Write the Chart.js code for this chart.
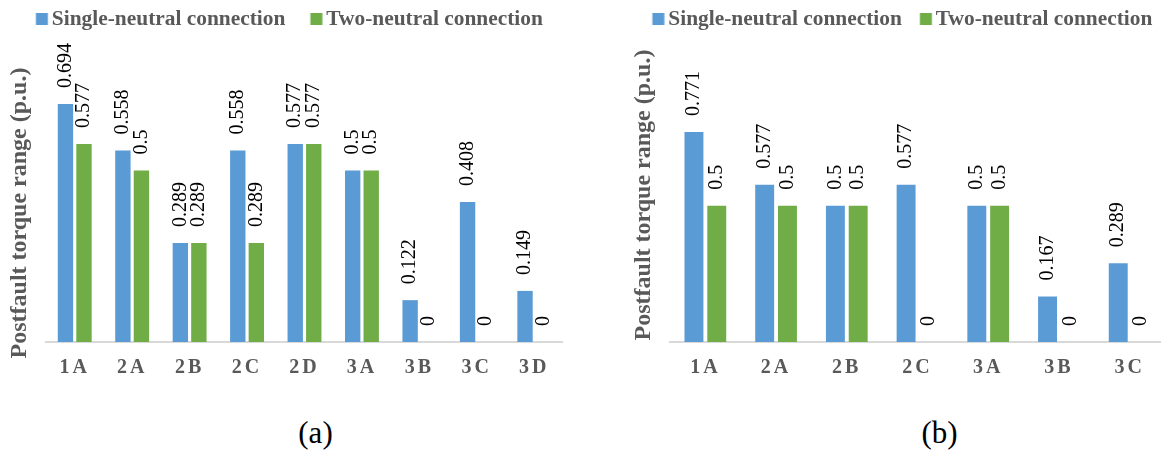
<!DOCTYPE html>
<html>
<head>
<meta charset="utf-8">
<script src="https://cdn.jsdelivr.net/npm/chart.js@4.4.1/dist/chart.umd.min.js"></script>
<style>
  html, body { margin: 0; padding: 0; background: #fff; width: 1161px; height: 451px; overflow: hidden; position: relative; }
  .panel { position: absolute; top: 0; height: 392px; }
  #wrapA { left: 0; width: 563px; }
  #wrapB { left: 624px; width: 541px; }
  .cap { position: absolute; top: 416.5px; font: 31px "Liberation Serif", "Times New Roman", serif; line-height: 31px;
         transform: translateX(-50%); color: #000; white-space: nowrap; }
</style>
</head>
<body>
<div class="panel" id="wrapA"><canvas id="chartA"></canvas></div>
<div class="panel" id="wrapB"><canvas id="chartB"></canvas></div>
<div class="cap" style="left:315.5px">(a)</div>
<div class="cap" style="left:939.5px">(b)</div>
<script>
// Postfault torque range per fault case, two neutral arrangements
const seriesNames = ['Single-neutral connection', 'Two-neutral connection'];
const yTitle = 'Postfault torque range (p.u.)';

// Panel (a)
const casesA = ['1A', '2A', '2B', '2C', '2D', '3A', '3B', '3C', '3D'];
const singleA = [0.694, 0.558, 0.289, 0.558, 0.577, 0.5, 0.122, 0.408, 0.149];
const twoA    = [0.577, 0.5,   0.289, 0.289, 0.577, 0.5, 0,     0,     0];

// Panel (b)
const casesB = ['1A', '2A', '2B', '2C', '3A', '3B', '3C'];
const singleB = [0.771, 0.577, 0.5, 0.577, 0.5, 0.167, 0.289];
const twoB    = [0.5,   0.5,   0.5, 0,     0.5, 0,     0];

const SERIF = '"Liberation Serif", "Times New Roman", serif';
const BLUE = '#5b9bd5';
const GREEN = '#70ad47';
const GREY_TEXT = '#595959';

const LEGEND_FONT = 21.4;
const LEGEND_SLOT = 20;   // legend box slot width handed to Chart.js
const SWATCH = 12;        // drawn square size
const SWATCH_GAP = 4;     // square to label text

// Square legend swatch; the image is centred on the slot, the square sits near the text
function swatch(color) {
  const shift = LEGEND_SLOT / 2 + LEGEND_FONT / 2 - SWATCH_GAP - SWATCH / 2;
  const w = Math.ceil(2 * (shift + SWATCH / 2)) + 2;
  const c = document.createElement('canvas');
  c.width = w; c.height = SWATCH;
  const g = c.getContext('2d');
  g.fillStyle = color;
  g.fillRect(w / 2 + shift - SWATCH / 2, 0, SWATCH, SWATCH);
  return c;
}
const swatches = [swatch(BLUE), swatch(GREEN)];

// Vertical value labels just above each bar
const valueLabels = {
  id: 'valueLabels',
  afterDatasetsDraw(chart) {
    const ctx = chart.ctx;
    ctx.save();
    ctx.font = '20px ' + SERIF;
    ctx.fillStyle = '#000';
    ctx.textAlign = 'left';
    ctx.textBaseline = 'middle';
    chart.data.datasets.forEach((ds, di) => {
      chart.getDatasetMeta(di).data.forEach((bar, i) => {
        ctx.save();
        ctx.translate(bar.x, bar.y - 16);
        ctx.rotate(-Math.PI / 2);
        ctx.fillText(String(ds.data[i]), 0, 0);
        ctx.restore();
      });
    });
    ctx.restore();
  }
};

// Rotated value-axis caption beside the plot
const sideTitle = {
  id: 'sideTitle',
  afterDraw(chart, args, opts) {
    const ctx = chart.ctx;
    ctx.save();
    ctx.translate(chart.chartArea.left - 26, opts.centerY);
    ctx.rotate(-Math.PI / 2);
    ctx.font = 'bold 24px ' + SERIF;
    ctx.fillStyle = GREY_TEXT;
    ctx.textAlign = 'center';
    ctx.textBaseline = 'middle';
    ctx.fillText(opts.text, 0, 0);
    ctx.restore();
  }
};

// Category labels are drawn with a little tracking
const spacedTicks = {
  id: 'spacedTicks',
  afterLayout(chart) {
    const s = chart.scales.x;
    if (s && !s._tracked) {
      const orig = s.drawLabels;
      s.drawLabels = function (area) {
        const c = this.ctx;
        const prev = c.letterSpacing;
        c.letterSpacing = '3px';
        orig.call(this, area);
        c.letterSpacing = prev || '0px';
      };
      s._tracked = true;
    }
  }
};

function buildChart(id, cases, single, two, yMax, titleCenterY, itemGap) {
  const barShape = { categoryPercentage: 0.645, barPercentage: 0.83 };
  // Chart.js spacing between legend items that leaves itemGap px from text to next square
  const pad = itemGap - LEGEND_SLOT + (SWATCH + SWATCH_GAP - LEGEND_FONT / 2);
  return new Chart(document.getElementById(id), {
    type: 'bar',
    data: {
      labels: cases,
      datasets: [
        Object.assign({ label: seriesNames[0], data: single, backgroundColor: BLUE }, barShape),
        Object.assign({ label: seriesNames[1], data: two, backgroundColor: GREEN }, barShape)
      ]
    },
    options: {
      responsive: true,
      maintainAspectRatio: false,
      animation: false,
      devicePixelRatio: 1,
      layout: { padding: { left: 1, right: 0, top: 8.6 - pad, bottom: 0 } },
      plugins: {
        legend: {
          position: 'top',
          labels: {
            usePointStyle: true,
            pointStyleWidth: LEGEND_SLOT,
            boxHeight: SWATCH,
            padding: pad,
            color: GREY_TEXT,
            font: { family: SERIF, size: LEGEND_FONT, weight: 'bold' },
            generateLabels(chart) {
              return Chart.defaults.plugins.legend.labels.generateLabels(chart)
                .map((item, i) => Object.assign(item, { pointStyle: swatches[i] }));
            }
          }
        },
        tooltip: { enabled: false },
        sideTitle: { text: yTitle, centerY: titleCenterY }
      },
      scales: {
        x: {
          grid: { display: false, drawTicks: false },
          border: { display: true, color: '#d9d9d9', width: 2 },
          ticks: {
            color: GREY_TEXT, padding: 14, maxRotation: 0, autoSkip: false,
            font: { family: SERIF, size: 20, weight: 'bold' }
          },
          afterFit(s) { s.height = 50; }
        },
        y: {
          min: 0, max: yMax,
          ticks: { display: false },
          grid: { display: false },
          border: { display: false },
          afterFit(s) { s.width = 45; }
        }
      }
    },
    plugins: [valueLabels, sideTitle, spacedTicks]
  });
}

buildChart('chartA', casesA, singleA, twoA, 0.8805, 213, 25);
buildChart('chartB', casesB, singleB, twoB, 1.1087, 195, 18);
</script>
</body>
</html>
